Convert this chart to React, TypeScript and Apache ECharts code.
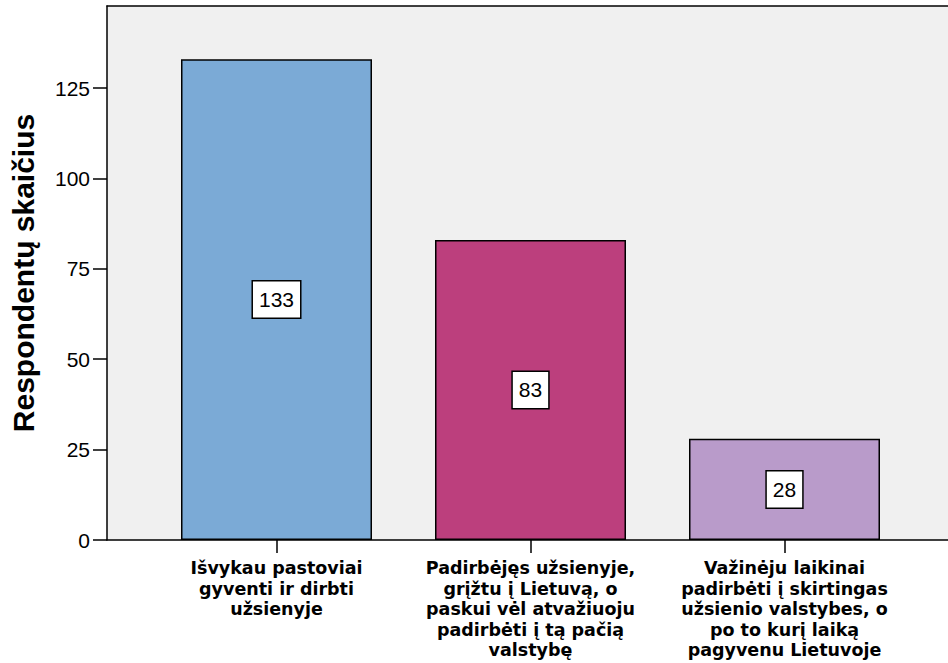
import React, { useEffect, useRef } from "react";
import * as echarts from "echarts";

const categories = [
  "Išvykau pastoviai\ngyventi ir dirbti\nužsienyje",
  "Padirbėjęs užsienyje,\ngrįžtu į Lietuvą, o\npaskui vėl atvažiuoju\npadirbėti į tą pačią\nvalstybę",
  "Važinėju laikinai\npadirbėti į skirtingas\nužsienio valstybes, o\npo to kurį laiką\npagyvenu Lietuvoje",
];
const values = [133, 83, 28];
const colors = ["#7baad6", "#bc3f7d", "#b99bca"];
const yTicks = [0, 25, 50, 75, 100, 125];
const yAxisName = "Respondentų skaičius";

export default function App() {
  const ref = useRef<HTMLDivElement>(null);
  useEffect(() => {
    if (!ref.current) return;
    const chart = echarts.init(ref.current, null, { renderer: "svg" });
    const xMin = 1 - 169.5 / 254;
    const xMax = xMin + 841 / 254;
    chart.setOption({
      animation: false,
      grid: {
        left: 107,
        top: 6,
        right: 0,
        bottom: 123,
        show: true,
        backgroundColor: "#f0f0f0",
        borderWidth: 0,
      },
      xAxis: [
        {
          type: "value",
          min: xMin,
          max: xMax,
          splitLine: { show: false },
          axisLine: { show: true, lineStyle: { color: "#000", width: 1.5 } },
          axisTick: {
            show: true,
            length: 13,
            customValues: [1, 2, 3],
            lineStyle: { color: "#000", width: 1.5 },
          },
          axisLabel: {
            customValues: [1, 2, 3],
            formatter: (v: number) => categories[Math.round(v) - 1] ?? "",
            color: "#000",
            fontFamily: "DejaVu Sans",
            fontWeight: "bold",
            fontSize: 17.5,
            lineHeight: 20.5,
            margin: 18,
            align: "center",
            hideOverlap: false,
          },
        },
        {
          type: "value",
          position: "top",
          min: xMin,
          max: xMax,
          splitLine: { show: false },
          axisLine: { show: true, lineStyle: { color: "#000", width: 1.5 } },
          axisTick: { show: false },
          axisLabel: { show: false },
        },
      ],
      yAxis: {
        type: "value",
        min: 0,
        max: 147.7,
        name: yAxisName,
        nameLocation: "middle",
        nameGap: 69,
        nameTextStyle: {
          color: "#000",
          fontFamily: "Liberation Sans",
          fontWeight: "bold",
          fontSize: 30,
        },
        splitLine: { show: false },
        axisLine: { show: true, lineStyle: { color: "#000", width: 1.5 } },
        axisTick: {
          show: true,
          length: 14,
          customValues: yTicks,
          lineStyle: { color: "#000", width: 1.5 },
        },
        axisLabel: {
          customValues: yTicks,
          color: "#000",
          fontFamily: "Liberation Sans",
          fontSize: 21,
          margin: 17,
        },
      },
      series: [
        {
          type: "bar",
          xAxisIndex: 0,
          barWidth: 191,
          data: values.map((v, i) => ({
            value: [i + 1, v],
            itemStyle: { color: colors[i], borderColor: "#000", borderWidth: 1.5 },
          })),
          label: {
            show: true,
            position: "inside",
            formatter: (p: any) => String(p.value[1]),
            color: "#000",
            fontFamily: "Liberation Sans",
            fontSize: 21,
            lineHeight: 21,
            backgroundColor: "#fff",
            borderColor: "#000",
            borderWidth: 1.5,
            padding: [8, 6, 7, 6],
          },
        },
      ],
    });
    return () => chart.dispose();
  }, []);
  return <div ref={ref} style={{ width: 948, height: 663, position: "absolute", left: 0, top: 0 }} />;
}
